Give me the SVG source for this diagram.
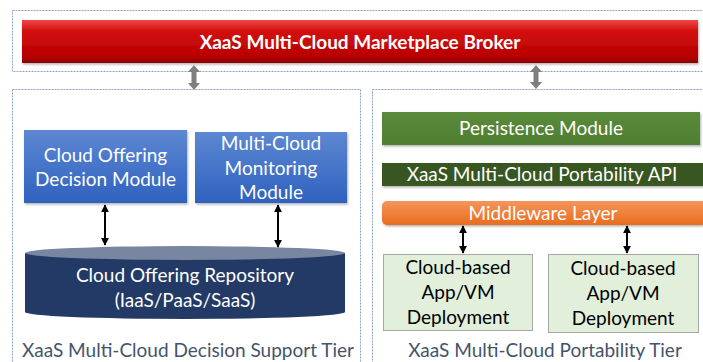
<svg xmlns="http://www.w3.org/2000/svg" width="703" height="362" viewBox="0 0 703 362">
<defs>
<linearGradient id="gRed" x1="0" y1="0" x2="0" y2="1">
<stop offset="0" stop-color="#f04848"/><stop offset="0.25" stop-color="#d41010"/><stop offset="0.85" stop-color="#b80000"/><stop offset="1" stop-color="#8c0000"/>
</linearGradient>
<linearGradient id="gBlue" x1="0" y1="0" x2="0" y2="1">
<stop offset="0" stop-color="#5d87d2"/><stop offset="1" stop-color="#2f62bf"/>
</linearGradient>
<linearGradient id="gGreen" x1="0" y1="0" x2="0" y2="1">
<stop offset="0" stop-color="#5a8b3a"/><stop offset="1" stop-color="#4f7e31"/>
</linearGradient>
<linearGradient id="gOrange" x1="0" y1="0" x2="0" y2="1">
<stop offset="0" stop-color="#f4955a"/><stop offset="1" stop-color="#e86c1e"/>
</linearGradient>
<marker id="ah" viewBox="0 0 10 10" refX="9" refY="5" markerWidth="4" markerHeight="4" orient="auto-start-reverse">
<path d="M0,0 L10,5 L0,10 z" fill="#000"/>
</marker>
<filter id="sh" x="-5%" y="-10%" width="110%" height="130%">
<feDropShadow dx="1" dy="1.5" stdDeviation="1" flood-color="#000" flood-opacity="0.3"/>
</filter>
</defs>
<style>
.cont{fill:none;stroke:#8ea4c8;stroke-width:1;stroke-dasharray:2 1}
.t{font-family:Lato,"Open Sans",sans-serif;text-anchor:middle;font-size:19px}
.w{fill:#fff}
.k{fill:#000}
.tier{fill:#44546a}
.conn{stroke:#000;stroke-width:2;fill:none;marker-start:url(#ah);marker-end:url(#ah)}
.garr{fill:#7f7f7f}
</style>

<g id="broker-container"><rect class="cont" x="12.5" y="10.5" width="700" height="61"/></g>
<g id="broker">
<rect x="22" y="20" width="676" height="43" fill="url(#gRed)" filter="url(#sh)"/>
<text class="t w" x="360" y="48.5" font-weight="bold">XaaS Multi-Cloud Marketplace Broker</text>
</g>

<g id="decision-tier">
<rect class="cont" x="12.5" y="89.5" width="348" height="280"/>
<text class="t tier" x="188" y="357">XaaS Multi-Cloud Decision Support Tier</text>
</g>
<g id="portability-tier">
<rect class="cont" x="372.5" y="89.5" width="340" height="280"/>
<text class="t tier" x="545" y="357">XaaS Multi-Cloud Portability Tier</text>
</g>

<g id="decision-module">
<rect x="24" y="130" width="163" height="73" fill="url(#gBlue)" filter="url(#sh)"/>
<text class="t w" x="105.5" y="162">Cloud Offering</text>
<text class="t w" x="105.5" y="186">Decision Module</text>
</g>
<g id="monitoring-module">
<rect x="195" y="132" width="152" height="71" fill="url(#gBlue)" filter="url(#sh)"/>
<text class="t w" x="271" y="150">Multi-Cloud</text>
<text class="t w" x="271" y="175">Monitoring</text>
<text class="t w" x="271" y="199">Module</text>
</g>
<g id="repository">
<path d="M25,253 L25,312 A160,7 0 0 0 345,312 L345,253 Z" fill="#223a65"/>
<ellipse cx="185" cy="253" rx="160" ry="7" fill="#7886a2"/>
<text class="t w" x="185" y="282">Cloud Offering Repository</text>
<text class="t w" x="185" y="307">(IaaS/PaaS/SaaS)</text>
</g>

<g id="persistence">
<rect x="382" y="112" width="318" height="33" fill="url(#gGreen)" filter="url(#sh)"/>
<text class="t w" x="541" y="135">Persistence Module</text>
</g>
<g id="api">
<rect x="382" y="163" width="322" height="23" fill="#385723" filter="url(#sh)"/>
<text class="t w" x="542" y="181">XaaS Multi-Cloud Portability API</text>
</g>
<g id="middleware">
<rect x="382" y="201" width="325" height="24" rx="5" fill="url(#gOrange)" filter="url(#sh)"/>
<text class="t w" x="543" y="219.5">Middleware Layer</text>
</g>
<g id="deploy1">
<rect x="383.5" y="254.5" width="149" height="76" fill="#e2efda" stroke="#a6a6a6"/>
<text class="t k" x="458" y="274">Cloud-based</text>
<text class="t k" x="458" y="299">App/VM</text>
<text class="t k" x="458" y="324">Deployment</text>
</g>
<g id="deploy2">
<rect x="548.5" y="254.5" width="150" height="78" fill="#e2efda" stroke="#a6a6a6"/>
<text class="t k" x="623" y="275">Cloud-based</text>
<text class="t k" x="623" y="300">App/VM</text>
<text class="t k" x="623" y="325">Deployment</text>
</g>

<g id="connectors">
<path class="garr" d="M194,65 L200,72 L196.5,72 L196.5,83 L200,83 L194,90 L188,83 L191.5,83 L191.5,72 L188,72 Z"/>
<path class="garr" d="M536,65 L542,72 L538.5,72 L538.5,82 L542,82 L536,89 L530,82 L533.5,82 L533.5,72 L530,72 Z"/>
<line class="conn" x1="105" y1="205" x2="105" y2="245"/>
<line class="conn" x1="278" y1="205" x2="278" y2="247"/>
<line class="conn" x1="463" y1="226" x2="463" y2="253"/>
<line class="conn" x1="627" y1="226" x2="627" y2="253"/>
</g>
</svg>
